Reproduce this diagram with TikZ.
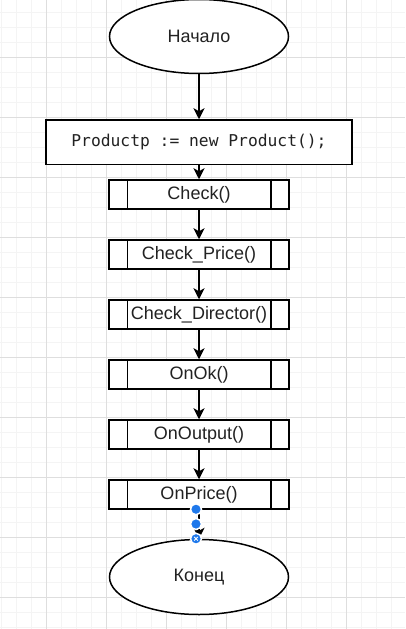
\documentclass[tikz,border=0pt]{standalone}
\usepackage{fontspec}
\setmainfont{Liberation Sans}
\setmonofont{DejaVu Sans Mono}
\usetikzlibrary{arrows.meta, positioning, shapes.geometric, calc}

\begin{document}
\begin{tikzpicture}[x=1pt, y=-1pt,
    block/.style={rectangle, draw, line width=1.5pt, fill=white, text=textcolor, font=\fontsize{18}{21}\selectfont},
    procbox/.style={block, minimum width=180pt, minimum height=29pt, inner sep=0pt},
    termbox/.style={ellipse, draw, line width=1.5pt, fill=white, text=textcolor, minimum width=179pt, minimum height=74pt, font=\fontsize{18}{21}\selectfont},
    flow/.style={-{Stealth[length=11pt, width=11pt, inset=3pt]}, line width=1.5pt},
    handle/.style={circle, fill=handleblue, draw=white, line width=1.5pt, inner sep=0pt, minimum size=11pt}]
  % Define colors
  \definecolor{textcolor}{RGB}{34,34,34}      % Dark gray text
  \definecolor{gridminor}{RGB}{244,244,244}   % Faint grid
  \definecolor{gridmajor}{RGB}{222,222,222}   % Major grid
  \definecolor{handleblue}{RGB}{30,120,235}   % Selection handles

  % Background grid
  \useasboundingbox (0,0) rectangle (405,629);
  \fill[white] (0,0) rectangle (405,629);
  \foreach \x in {1,16,...,405} \draw[gridminor, line width=1pt] (\x,0) -- (\x,629);
  \foreach \y in {12,27,...,629} \draw[gridminor, line width=1pt] (0,\y) -- (405,\y);
  \foreach \x in {46,106,...,405} \draw[gridmajor, line width=1pt] (\x,0) -- (\x,629);
  \foreach \y in {57,117,...,629} \draw[gridmajor, line width=1pt] (0,\y) -- (405,\y);

  % Flowchart boxes
  \node[termbox] (start) at (199,36.5) {Начало};
  \node[block, minimum width=306pt, minimum height=44.5pt, font=\ttfamily\fontsize{16.3}{19}\selectfont, below=45pt of start] (init) {Productp := new Product();};
  \node[procbox, below=14pt of init] (check) {Check()};
  \node[procbox, below=29.5pt of check] (price) {Check\_Price()};
  \node[procbox, below=29.5pt of price] (director) {Check\_Director()};
  \node[procbox, below=29.5pt of director] (onok) {OnOk()};
  \node[procbox, below=29.5pt of onok] (onoutput) {OnOutput()};
  \node[procbox, below=29.5pt of onoutput] (onprice) {OnPrice()};
  \node[termbox, minimum height=75pt, below=29pt of onprice] (end) {Конец};

  % Side bars of the subroutine boxes
  \foreach \n in {check, price, director, onok, onoutput, onprice} {
    \draw[line width=1.5pt] ([xshift=19pt]\n.north west) -- ([xshift=19pt]\n.south west);
    \draw[line width=1.5pt] ([xshift=-19pt]\n.north east) -- ([xshift=-19pt]\n.south east);
  }

  % Arrows between boxes
  \draw[flow] (start) -- (init);
  \draw[flow] (init) -- (check);
  \draw[flow] (check) -- (price);
  \draw[flow] (price) -- (director);
  \draw[flow] (director) -- (onok);
  \draw[flow] (onok) -- (onoutput);
  \draw[flow] (onoutput) -- (onprice);
  \draw[flow] (onprice) -- (end);

  % Selection handles on the last arrow
  \node[handle] (h1) at ([xshift=-3pt, yshift=0.5pt]onprice.south) {};
  \node[handle] (h3) at ([xshift=-3pt, yshift=0pt]end.north) {};
  \node[handle] (h2) at ($(h1)!0.5!(h3)$) {};
  \draw[white, line width=0.8pt] ([shift={(-1.8pt,-1.8pt)}]h3.center) -- ([shift={(1.8pt,1.8pt)}]h3.center);
  \draw[white, line width=0.8pt] ([shift={(-1.8pt,1.8pt)}]h3.center) -- ([shift={(1.8pt,-1.8pt)}]h3.center);
\end{tikzpicture}
\end{document}
